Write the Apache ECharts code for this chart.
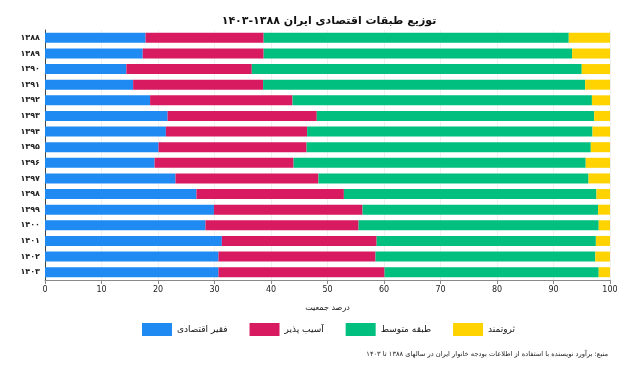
<!DOCTYPE html>
<html><head><meta charset="utf-8">
<script src="https://cdn.jsdelivr.net/npm/echarts@6/dist/echarts.min.js"></script>
<style>html,body{margin:0;padding:0;background:#fff}#c{width:624px;height:374px}</style>
</head><body><div id="c"></div>
<script>
const years = ['۱۳۸۸','۱۳۸۹','۱۳۹۰','۱۳۹۱','۱۳۹۲','۱۳۹۳','۱۳۹۴','۱۳۹۵','۱۳۹۶','۱۳۹۷','۱۳۹۸','۱۳۹۹','۱۴۰۰','۱۴۰۱','۱۴۰۲','۱۴۰۳'];
const poor       = [17.8,17.3,14.4,15.6,18.6,21.7,21.4,20.1,19.4,23.1,26.8,29.9,28.4,31.3,30.7,30.7];
const vulnerable = [20.9,21.4,22.2,23.0,25.2,26.4,25.0,26.2,24.6,25.3,26.1,26.3,27.1,27.4,27.8,29.4];
const middle     = [54.0,54.6,58.4,57.0,53.0,49.1,50.5,50.3,51.7,47.8,44.7,41.7,42.5,38.8,38.9,37.9];
const rich       = [7.3,6.7,5.0,4.4,3.2,2.8,3.1,3.4,4.3,3.8,2.4,2.1,2.0,2.5,2.6,2.0];
const seriesNames = ['فقیر اقتصادی','آسیب پذیر','طبقه متوسط','ثروتمند'];
const colors = ['#1E8AF2','#D81B60','#00BF7F','#FFD300'];
const xTicks = [0,10,20,30,40,50,60,70,80,90,100];
const titleText = 'توزیع طبقات اقتصادی ایران ۱۳۸۸-۱۴۰۳';
const xName = 'درصد جمعیت';
const sourceText = 'منبع: برآورد نویسنده با استفاده از اطلاعات بودجه خانوار ایران در سالهای ۱۳۸۸ تا ۱۴۰۳';

const FONT = '"DejaVu Sans", sans-serif';
const chart = echarts.init(document.getElementById('c'), null, {renderer:'canvas'});
const dataSets = [poor, vulnerable, middle, rich];
chart.setOption({
  animation:false,
  color: colors,
  title:{text:titleText, left:329, textAlign:'center', top:16, padding:0,
    textStyle:{fontFamily:FONT, fontSize:11, fontWeight:'bold', color:'#111'}},
  grid:{left:45, right:14, top:30, bottom:94, containLabel:false},
  legend:{left:142, top:323, padding:0, itemWidth:30, itemHeight:13, itemGap:22,
    icon:'rect', data:seriesNames,
    textStyle:{fontFamily:FONT, fontSize:9, color:'#111'}},
  xAxis:{type:'value', min:0, max:100, interval:10,
    name:xName, nameLocation:'middle', nameGap:24,
    nameTextStyle:{fontFamily:FONT, fontSize:8, color:'#111'},
    axisLine:{show:true, lineStyle:{color:'#888', width:1}},
    axisTick:{show:true, length:4, lineStyle:{color:'#888'}},
    axisLabel:{fontFamily:FONT, fontSize:8, color:'#222', margin:6,
      formatter:v=> xTicks.includes(v)? String(v):''},
    splitLine:{show:true, lineStyle:{color:'#f0f0f0', width:1}}},
  yAxis:{type:'category', data:years, inverse:true,
    axisLine:{show:true, lineStyle:{color:'#444', width:1}},
    axisTick:{show:false},
    axisLabel:{fontFamily:FONT, fontSize:8, fontWeight:'bold', color:'#222', margin:5},
    splitLine:{show:false}},
  series: seriesNames.map((n,i)=>({name:n, type:'bar', stack:'all', data:dataSets[i],
    barWidth:'64%', itemStyle:{color:colors[i]}})),
  graphic:[{type:'text', right:16, top:351,
    style:{text:sourceText, fontFamily:FONT, fontSize:6.7, fill:'#222'}}]
});
</script></body></html>
